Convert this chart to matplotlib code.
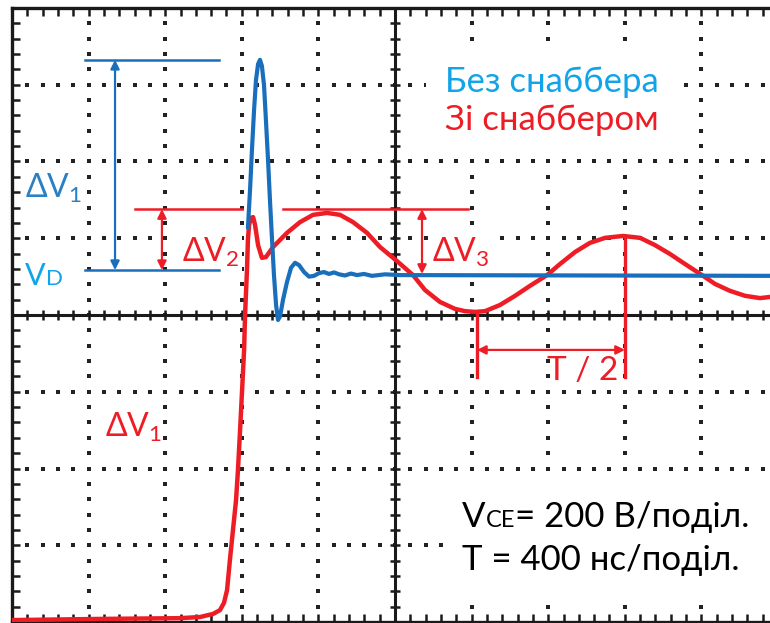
import numpy as np
import matplotlib.pyplot as plt

plt.rcParams['font.family'] = ['Lato', 'Open Sans', 'DejaVu Sans']

RED = '#ee1d25'
BLUE = '#1a6fbd'
BLUE_TXT = '#2a80c4'
CYAN = '#12a4e8'

# осцилограма зі снаббером: час, нс / напруга, В
t_snub = [0, 460, 877, 982, 1050, 1086, 1107, 1123, 1138, 1154, 1170, 1180,
          1191, 1201, 1212, 1217, 1227, 1232, 1238, 1248, 1259, 1269, 1285,
          1305, 1326, 1363, 1436, 1504, 1572, 1645, 1713, 1781, 1854, 1922,
          1990, 2030, 2094, 2157, 2235, 2313, 2366, 2418, 2470, 2548, 2627,
          2705, 2794, 2862, 2940, 3018, 3097, 3191, 3280, 3358, 3436, 3514,
          3603, 3671, 3749, 3828, 3906, 3958, 4000]
v_snub = [5, 8, 10, 13, 21, 31, 50, 83, 162, 240, 318, 396,
          500, 599, 709, 800, 917, 996, 1035, 1053, 1055, 1035, 982,
          949, 951, 977, 1014, 1042, 1061, 1066, 1061, 1042, 1014, 977,
          949, 932, 904, 865, 834, 816, 810, 808, 810, 826, 850,
          876, 904, 933, 964, 988, 1001, 1006, 1001, 982, 959, 933,
          904, 881, 863, 850, 844, 847, 850]

# без снаббера (виходить з фронту червоної кривої)
t_nosnub = [1232, 1243, 1253, 1264, 1274, 1285, 1295, 1305, 1316, 1326, 1337,
            1347, 1358, 1368, 1379, 1389, 1400, 1415, 1436, 1457, 1478, 1499,
            1525, 1551, 1577, 1603, 1629, 1655, 1682, 1708, 1739, 1770, 1802,
            1838, 1880, 1948, 2026, 4000]
v_nosnub = [1027, 1126, 1230, 1334, 1412, 1454, 1465, 1449, 1399, 1308, 1204,
            1100, 995, 904, 826, 787, 797, 839, 886, 923, 936, 930,
            912, 900, 902, 909, 912, 907, 911, 906, 903, 908, 904,
            907, 902, 906, 904, 902]

v_peak = 1465      # пік без снаббера
v_d = 917          # рівень VD
v_dv2 = 1076       # пік зі снаббером
v_dv3_low = 907
t_trough, v_trough = 2428, 808
t_crest, v_crest = 3201, 1006

fig = plt.figure(figsize=(7.7, 6.23), dpi=100)
ax = fig.add_axes([12 / 770, 1 / 623, 766 / 770, 614 / 623])
ax.set_xlim(0, 4000)
ax.set_ylim(0, 1600)

for s in ax.spines.values():
    s.set_linewidth(2.4)
    s.set_color('#1a1a1a')
ax.set_xticks(np.arange(0, 4001, 80))
ax.set_yticks(np.arange(0, 1601, 40))
ax.tick_params(direction='in', length=6, width=1.8, color='#1a1a1a',
               top=True, right=True, labelbottom=False, labelleft=False)

# точкова сітка
for k in [1, 2, 3, 4, 6, 7, 8, 9]:
    yy = np.arange(40, 1600, 40)
    ax.plot(np.full(len(yy), 400 * k), yy, 's', ms=2.5, color='#222222',
            mew=0, zorder=1)
for k in [1, 2, 3, 5, 6, 7]:
    xx = np.arange(80, 4000, 80)
    ax.plot(xx, np.full(len(xx), 200 * k), 's', ms=2.5, color='#222222',
            mew=0, zorder=1)

# центральні осі з рисками
ax.axhline(800, color='#1a1a1a', lw=2.2, zorder=1.5)
ax.axvline(2000, color='#1a1a1a', lw=2.2, zorder=1.5)
xx = np.arange(80, 4000, 80)
ax.plot(xx, np.full(len(xx), 800), '|', ms=7, mew=1.8, color='#1a1a1a',
        zorder=1.5)
yy = np.arange(40, 1600, 40)
ax.plot(np.full(len(yy), 2000), yy, '_', ms=7, mew=1.8, color='#1a1a1a',
        zorder=1.5)

# криві
ax.plot(t_snub, v_snub, color=RED, lw=3.2, solid_capstyle='round', zorder=3)
ax.plot(t_nosnub, v_nosnub, color=BLUE, lw=3.0, solid_capstyle='round',
        zorder=3.1)


def arrow(x0, y0, x1, y1, c):
    ax.annotate('', xy=(x1, y1), xytext=(x0, y0),
                arrowprops=dict(arrowstyle='<|-|>', color=c, lw=1.6,
                                mutation_scale=13, shrinkA=0, shrinkB=0),
                zorder=2.8)


def put(s, xy, c, size=23, pad=None, coords='data'):
    # білий фон під текстом малюється окремо, щоб не перекривати сусідні рядки
    if pad is not None:
        ax.annotate(s, xy=xy, xycoords=coords, color='none', fontsize=size,
                    va='baseline', zorder=2.4,
                    bbox=dict(facecolor='white', edgecolor='none', pad=pad))
    return ax.annotate(s, xy=xy, xycoords=coords, color=c, fontsize=size,
                       va='baseline', zorder=2.5)


# ΔV1 / VD
ax.plot([381, 1081], [v_peak, v_peak], color=BLUE, lw=1.8, zorder=2.8)
ax.plot([381, 1081], [v_d, v_d], color=BLUE, lw=1.8, zorder=2.8)
arrow(538, v_d, 538, v_peak, BLUE)
put(r'$\mathregular{ΔV_1}$', (68, 1105), BLUE_TXT, pad=2)
vd = put('V', (70, 878), CYAN, size=22)
put('D', (1, 878), CYAN, size=16, coords=(vd, 'data'))

# ΔV2 / ΔV3
ax.plot([642, 1201], [v_dv2, v_dv2], color=RED, lw=1.8, zorder=2.8)
ax.plot([1415, 2381], [v_dv2, v_dv2], color=RED, lw=1.8, zorder=2.8)
arrow(783, v_d, 783, v_dv2, RED)
arrow(2141, v_dv3_low, 2141, v_dv2, RED)
put(r'$\mathregular{ΔV_2}$', (888, 938), RED, pad=2)
put(r'$\mathregular{ΔV_3}$', (2193, 938), RED, pad=2)
put(r'$\mathregular{ΔV_1}$', (486, 482), RED)

# T/2
ax.plot([t_trough, t_trough], [v_trough, 638], color=RED, lw=2.4, zorder=2.8)
ax.plot([t_crest, t_crest], [v_crest, 638], color=RED, lw=2.4, zorder=2.8)
arrow(t_trough, 709, t_crest, 709, RED)
ax.text(2980, 630, 'T / 2', color=RED, fontsize=24, ha='center',
        va='baseline', zorder=2.5)

# підписи
put('Без снаббера', (2261, 1381), CYAN, size=25, pad=14)
put('Зі снаббером', (2261, 1282), RED, size=25, pad=14)
put('T = 400 нс/поділ.', (2350, 136), 'black', size=25, pad=14)
vce = put('V', (2350, 248), 'black', size=25, pad=14)
ce = put('CE', (1, 248), 'black', size=17, pad=14, coords=(vce, 'data'))
put('= 200 В/поділ.', (1, 248), 'black', size=25, pad=14, coords=(ce, 'data'))

fig.savefig('out.png', dpi=100)
